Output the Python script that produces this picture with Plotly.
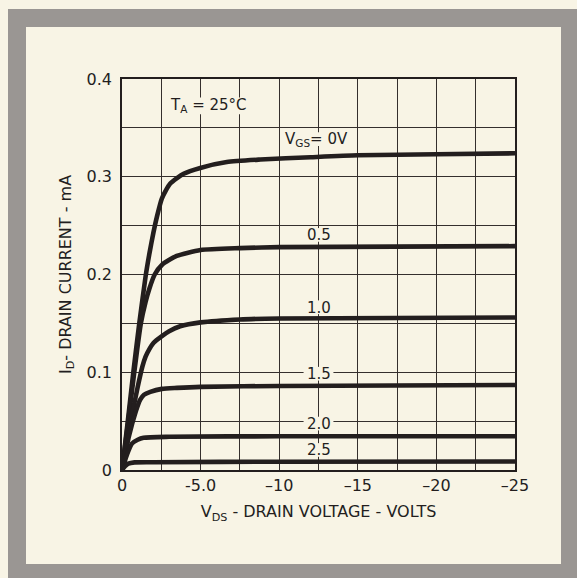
import plotly.graph_objects as go

# ---- data (V_DS in volts, I_D in mA) ----
vgs_labels = ["V<sub>GS</sub>= 0V", "0.5", "1.0", "1.5", "2.0", "2.5"]

vds_0 = [0, -0.37, -0.72, -1.1, -1.5, -1.75, -2.0, -2.22, -2.54, -3.07, -3.92, -4.98, -6.67, -8.8, -12, -15, -20, -25]
id_0 = [0, 0.05, 0.10, 0.15, 0.198, 0.222, 0.243, 0.259, 0.278, 0.293, 0.303, 0.309, 0.315, 0.3176, 0.320, 0.322, 0.323, 0.324]

vds_05 = [0, -0.4, -0.78, -1.2, -1.5, -1.73, -2.08, -2.55, -3.48, -5.0, -7.5, -10, -25]
id_05 = [0, 0.05, 0.10, 0.15, 0.172, 0.185, 0.200, 0.210, 0.219, 0.225, 0.227, 0.228, 0.229]

vds_10 = [0, -0.5, -1.0, -1.3, -1.5, -1.75, -2.0, -2.54, -3.0, -3.7, -5.0, -7.5, -10, -25]
id_10 = [0, 0.045, 0.085, 0.106, 0.116, 0.124, 0.130, 0.137, 0.142, 0.147, 0.151, 0.154, 0.155, 0.156]

vds_15 = [0, -0.45, -0.88, -1.16, -1.4, -1.8, -2.54, -3.5, -5.0, -10, -25]
id_15 = [0, 0.035, 0.060, 0.072, 0.077, 0.080, 0.083, 0.084, 0.085, 0.086, 0.087]

vds_20 = [0, -0.3, -0.63, -1.0, -1.37, -3.0, -10, -25]
id_20 = [0, 0.015, 0.027, 0.031, 0.033, 0.034, 0.0345, 0.0345]

vds_25 = [0, -0.2, -0.4, -0.8, -2.0, -10, -25]
id_25 = [0, 0.004, 0.0065, 0.0078, 0.008, 0.0085, 0.0087]

curves = [(vds_0, id_0), (vds_05, id_05), (vds_10, id_10),
          (vds_15, id_15), (vds_20, id_20), (vds_25, id_25)]

# label positions (data coordinates)
label_x = [-12.4, -12.5, -12.5, -12.5, -12.5, -12.5]
label_y = [0.338, 0.240, 0.166, 0.098, 0.047, 0.020]

x_tickvals = [0, -2.5, -5, -7.5, -10, -12.5, -15, -17.5, -20, -22.5, -25]
x_ticktext = ["0", "", "-5.0", "", "\u201310", "", "\u201315", "", "\u201320", "", "\u201325"]
y_tickvals = [0, 0.05, 0.1, 0.15, 0.2, 0.25, 0.3, 0.35, 0.4]
y_ticktext = ["0", "", "0.1", "", "0.2", "", "0.3", "", "0.4"]

# ---- styling ----
W, H = 577, 578
L, R, T, B = 122, 62, 79, 108
PW, PH = W - L - R, H - T - B
CREAM = "#f8f4e5"
INK = "#231e1e"
GRID = "#352f2d"
GRAY = "#9a9693"
FONT = "DejaVu Sans"
FS = 15
FS_AX = 16

def xp(px):
    return (px - L) / PW

def yp(py):
    return (H - B - py) / PH

fig = go.Figure()
for vx, iy in curves:
    fig.add_trace(go.Scatter(x=vx, y=iy, mode="lines",
                             line=dict(color=INK, width=4.6, shape="spline", smoothing=0.6),
                             showlegend=False, hoverinfo="skip"))

shapes = []
# cream patches that break the grid behind the labels (drawn under the curves)
half_w = [2.0, 0.95, 0.95, 0.95, 0.95, 0.95]
for lx, ly, hw in zip(label_x, label_y, half_w):
    shapes.append(dict(type="rect", xref="x", yref="y", x0=lx + hw, x1=lx - hw,
                       y0=ly - 0.0065, y1=ly + 0.0075, fillcolor=CREAM,
                       line=dict(width=0), layer="between"))
ta_x, ta_y = -5.5, 0.373
shapes.append(dict(type="rect", xref="x", yref="y", x0=ta_x + 2.4, x1=ta_x - 2.4,
                   y0=ta_y - 0.009, y1=ta_y + 0.008, fillcolor=CREAM,
                   line=dict(width=0), layer="between"))

for txt, lx, ly in zip(vgs_labels, label_x, label_y):
    fig.add_annotation(x=lx, y=ly, text=txt, showarrow=False,
                       font=dict(family=FONT, size=FS, color=INK))

fig.add_annotation(x=ta_x, y=ta_y, text="T<sub>A</sub> = 25\u00b0C", showarrow=False,
                   font=dict(family=FONT, size=FS, color=INK))

# gray frame around the page
for (x0, x1, y0, y1) in [(8, 580, 9, 27), (8, 580, 564, 580), (8, 26, 9, 580), (561, 580, 9, 580)]:
    shapes.append(dict(type="rect", xref="paper", yref="paper",
                       x0=xp(x0), x1=xp(x1), y0=yp(y0), y1=yp(y1),
                       fillcolor=GRAY, line=dict(width=0), layer="below"))

fig.update_layout(
    width=W, height=H,
    margin=dict(l=L, r=R, t=T, b=B),
    paper_bgcolor=CREAM, plot_bgcolor=CREAM,
    font=dict(family=FONT, size=FS, color=INK),
    shapes=shapes,
    xaxis=dict(range=[0, -25], tickvals=x_tickvals, ticktext=x_ticktext,
               tickfont=dict(family=FONT, size=FS_AX, color=INK),
               showgrid=True, gridcolor=GRID, gridwidth=1.1,
               showline=True, linecolor=INK, linewidth=1.6, mirror=True,
               ticks="", zeroline=False, ticklabelstandoff=0,
               title=dict(text="V<sub>DS</sub> - DRAIN VOLTAGE - VOLTS", standoff=12,
                          font=dict(family=FONT, size=FS_AX, color=INK))),
    yaxis=dict(range=[0, 0.4], tickvals=y_tickvals, ticktext=y_ticktext,
               tickfont=dict(family=FONT, size=FS_AX, color=INK),
               showgrid=True, gridcolor=GRID, gridwidth=1.1,
               showline=True, linecolor=INK, linewidth=1.6, mirror=True,
               ticks="", zeroline=False, ticklabelstandoff=5,
               title=dict(text="I<sub>D</sub>- DRAIN CURRENT - mA", standoff=11,
                          font=dict(family=FONT, size=FS_AX, color=INK))),
)

fig.write_html("out.html", config={"displayModeBar": False},
               post_script="document.body.style.margin='0';"
                           "document.body.style.background='#f8f4e5';"
                           "document.documentElement.style.background='#f8f4e5';")
